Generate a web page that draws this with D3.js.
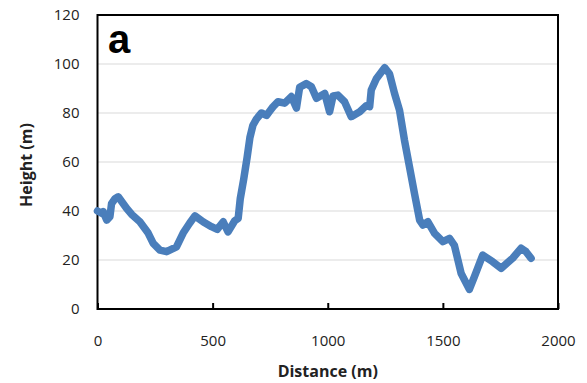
<!DOCTYPE html>
<html>
<head>
<meta charset="utf-8">
<script src="https://cdn.jsdelivr.net/npm/d3@7"></script>
<style>
  body { margin: 0; background: #fff; }
  svg { display: block; }
  .tick text { font-family: "Open Sans", sans-serif; font-size: 15px; fill: #222; }
</style>
</head>
<body>
<svg id="chart" width="587" height="383"></svg>
<script>
// profile
const distance = [0, 20, 25, 40, 54, 61, 76, 90, 127, 150, 184, 220, 242, 271, 300, 343, 372, 400,
  423, 460, 495, 520, 546, 567, 596, 611, 620, 635, 650, 662, 675, 690, 712, 734, 750, 762, 784,
  813, 842, 864, 878, 907, 929, 951, 987, 1008, 1023, 1044, 1073, 1102, 1139, 1167, 1182, 1189,
  1211, 1247, 1268, 1290, 1312, 1333, 1355, 1377, 1399, 1413, 1435, 1464, 1500, 1529, 1550, 1579,
  1615, 1637, 1673, 1716, 1753, 1803, 1840, 1861, 1883];
const height = [40, 39, 39.7, 36.3, 37.7, 43, 45, 45.8, 41, 38.5, 35.6, 31, 26.8, 24, 23.4, 25.4, 31, 35,
  38, 35.5, 33.6, 32.5, 35.6, 31.5, 36, 37, 45, 53, 62, 70, 75, 77.5, 80, 79, 81, 82.5, 84.6,
  84, 86.7, 82, 90.5, 92, 90.7, 86, 88, 80.5, 87, 87.3, 84.6, 78.5, 80.5, 83, 82.6, 89.4,
  94, 98.5, 96, 88, 81, 69, 58, 47, 36.3, 34.3, 35.6, 30.9, 27.5, 28.8, 26, 14.6,
  8, 13.2, 22, 19.3, 16.6, 20.7, 24.8, 23.4, 20.7];
const xTicks = [0, 500, 1000, 1500, 2000];
const yTicks = [0, 20, 40, 60, 80, 100, 120];

const points = distance.map((d, i) => ({ d, h: height[i] }));

const svg = d3.select("#chart");
const plotLeft = 97.5, plotRight = 558, plotTop = 15, plotBottom = 309;

const x = d3.scaleLinear().domain([0, 2000]).range([plotLeft, plotRight]);
const y = d3.scaleLinear().domain([0, 120]).range([plotBottom, plotTop]);

// gridlines
svg.append("g")
  .selectAll("line")
  .data(yTicks.filter(t => t > 0 && t < 120))
  .join("line")
  .attr("x1", plotLeft).attr("x2", plotRight)
  .attr("y1", d => y(d)).attr("y2", d => y(d))
  .attr("stroke", "#d9d9d9").attr("stroke-width", 1.2);

// y axis labels, no ticks
const yAxis = svg.append("g")
  .attr("transform", `translate(${plotLeft},0)`)
  .call(d3.axisLeft(y).tickValues(yTicks).tickFormat(d3.format("d")).tickSize(0).tickPadding(18));
yAxis.select(".domain").remove();

// x axis, ticks pointing inside
const xAxis = svg.append("g")
  .attr("transform", `translate(0,${plotBottom})`)
  .call(d3.axisBottom(x).tickValues(xTicks).tickFormat(d3.format("d"))
    .tickSizeInner(-6).tickSizeOuter(0).tickPadding(26));
xAxis.select(".domain").remove();
xAxis.selectAll(".tick line").attr("stroke", "#000").attr("stroke-width", 2);

// frame
svg.append("rect")
  .attr("x", plotLeft).attr("y", plotTop)
  .attr("width", plotRight - plotLeft).attr("height", plotBottom - plotTop)
  .attr("fill", "none").attr("stroke", "#000").attr("stroke-width", 2);

// profile line
const line = d3.line().x(p => x(p.d)).y(p => y(p.h));
svg.append("path")
  .datum(points)
  .attr("d", line)
  .attr("fill", "none")
  .attr("stroke", "#4a7ebb")
  .attr("stroke-width", 7.5)
  .attr("stroke-linejoin", "round")
  .attr("stroke-linecap", "round");

// titles
svg.append("text")
  .attr("x", (plotLeft + plotRight) / 2).attr("y", 377)
  .attr("text-anchor", "middle")
  .attr("font-family", "'Open Sans', sans-serif").attr("font-weight", "bold").attr("font-size", 16)
  .attr("fill", "#222")
  .text("Distance (m)");

svg.append("text")
  .attr("transform", "translate(32,165) rotate(-90)")
  .attr("text-anchor", "middle")
  .attr("font-family", "'Open Sans', sans-serif").attr("font-weight", "bold").attr("font-size", 16)
  .attr("fill", "#222")
  .text("Height (m)");

svg.append("text")
  .attr("x", 108).attr("y", 53)
  .attr("font-family", "'Liberation Sans', Arial, sans-serif").attr("font-weight", "bold").attr("font-size", 40)
  .attr("fill", "#000")
  .text("a");
</script>
</body>
</html>
